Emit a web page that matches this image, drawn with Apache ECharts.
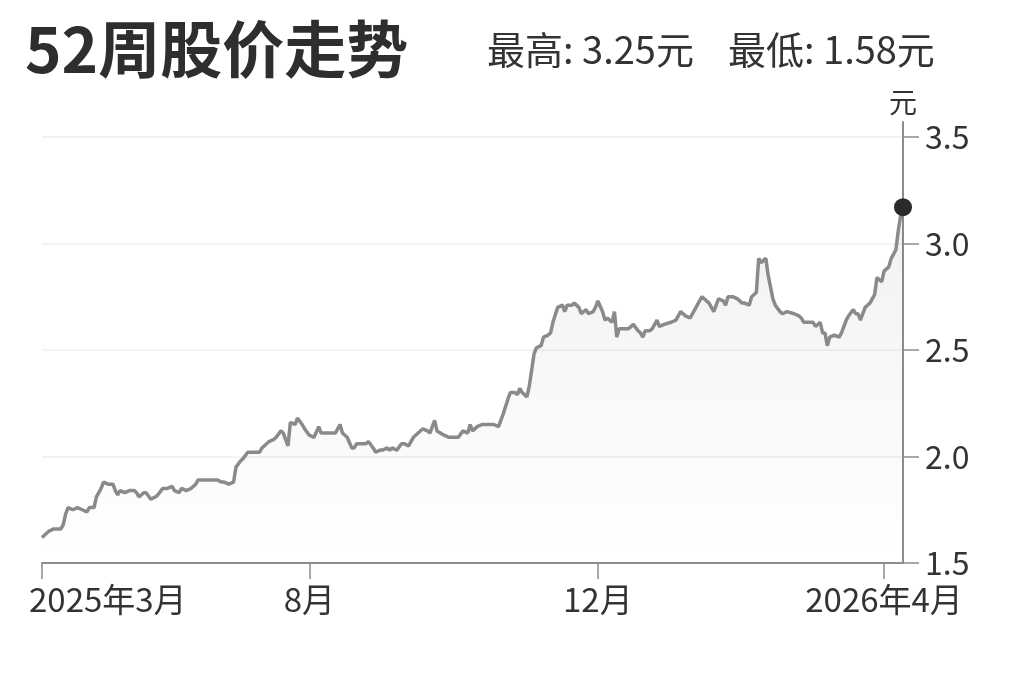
<!DOCTYPE html>
<html>
<head>
    <meta charset="utf-8">
    <script src="https://cdn.jsdelivr.net/npm/echarts@6/dist/echarts.min.js"></script>
    <style>
        html, body { margin: 0; padding: 0; background: #fff; }
    </style>
</head>
<body>
    <div id="main" style="width:1023px; height:682px;"></div>
</body>
	<script type="text/javascript">
        var myChart = echarts.init(document.getElementById('main'));

		// 52 weeks, counted in days from the first trading day
		var startDate = '2025-04-10';
		var dayOffsets = [
			0,1,3,5,8,9,10,11,13,15,17,19,20,22,23,25,26,28,30,31,32,33,35,37,39,40,41,43,44,46,
			48,49,51,53,55,56,58,59,61,63,65,66,68,71,74,76,77,79,81,82,84,85,87,89,91,
			92,93,96,98,99,101,102,104,105,107,108,110,111,113,115,117,118,121,123,124,
			126,127,129,131,132,133,135,137,138,140,141,143,144,146,147,148,150,152,153,155,
			157,159,161,163,164,166,167,170,172,174,176,178,180,181,182,
			184,186,188,191,193,195,197,198,200,201,202,203,205,206,208,209,211,212,214,215,
			216,218,220,221,222,224,225,227,228,230,231,233,234,235,237,238,239,241,242,243,
			244,246,248,250,252,253,254,255,257,258,260,261,263,266,268,270,272,274,
			275,277,279,280,282,284,286,288,289,290,292,294,296,297,299,300,302,303,304,306,
			307,309,310,312,313,315,318,320,321,322,324,326,327,329,330,331,332,333,335,337,
			338,340,341,343,344,345,346,348,349,350,352,353,355,356,358,359,361,362,363,364
		];
		var closePrices = [
			1.62,1.63,1.65,1.66,1.66,1.68,1.73,1.76,1.75,1.76,1.75,1.74,1.76,1.76,1.81,1.85,1.88,1.87,1.87,1.84,
			1.82,1.84,1.83,1.84,1.84,1.83,1.81,1.83,1.83,1.80,1.81,1.82,1.85,1.85,1.86,1.84,1.83,1.85,1.84,1.85,
			1.87,1.89,1.89,1.89,1.89,1.88,1.88,1.87,1.88,1.95,1.98,1.99,2.02,2.02,2.02,
			2.02,2.04,2.07,2.08,2.09,2.12,2.11,2.05,2.16,2.15,2.18,2.15,2.13,2.10,2.09,2.14,2.11,2.11,2.11,2.11,
			2.15,2.11,2.09,2.04,2.04,2.06,2.06,2.06,2.07,2.04,2.02,2.03,2.03,2.04,2.03,2.04,2.03,2.06,2.06,2.05,
			2.09,2.11,2.13,2.12,2.11,2.17,2.12,2.10,2.09,2.09,2.09,2.12,2.11,2.15,2.12,
			2.14,2.15,2.15,2.15,2.14,2.20,2.27,2.30,2.30,2.29,2.32,2.30,2.28,2.33,2.48,2.51,2.52,2.56,2.57,2.58,
			2.63,2.70,2.71,2.68,2.71,2.71,2.72,2.70,2.67,2.69,2.67,2.68,2.70,2.73,2.68,2.64,2.65,2.63,2.68,2.56,
			2.60,2.60,2.60,2.62,2.59,2.58,2.56,2.59,2.59,2.60,2.64,2.61,2.62,2.63,2.64,2.68,2.66,2.65,
			2.67,2.71,2.75,2.74,2.72,2.68,2.74,2.73,2.71,2.75,2.75,2.74,2.72,2.72,2.71,2.75,2.77,2.93,2.91,2.93,
			2.85,2.74,2.71,2.68,2.67,2.68,2.67,2.66,2.65,2.63,2.63,2.63,2.61,2.63,2.58,2.58,2.52,2.56,2.57,2.56,
			2.58,2.64,2.66,2.69,2.67,2.67,2.64,2.70,2.71,2.72,2.76,2.84,2.82,2.87,2.89,2.93,2.97,3.06,3.13,3.17
		];
		var tickDates = ['2025-04-10', '2025-08-01', '2025-12-01', '2026-04-01'];
		var tickLabels = ['2025年3月', '8月', '12月', '2026年4月'];
		var yTicks = [1.5, 2.0, 2.5, 3.0, 3.5];
		var highPrice = '3.25';
		var lowPrice = '1.58';

		var DAY = 86400000;
		var t0 = Date.parse(startDate);
		var tickDays = tickDates.map(function (s) { return Math.round((Date.parse(s) - t0) / DAY); });
		var lineData = dayOffsets.map(function (d, i) { return [d, closePrices[i]]; });
		var lastPoint = lineData[lineData.length - 1];

		var font = '"Noto Sans CJK SC", "Noto Sans", sans-serif';
		var axisColor = '#8c8c8c';

      	option = {
			backgroundColor: '#fff',
			animation: false,
			textStyle: { fontFamily: font },
			title: [{
				text: '52周股价走势',
				left: 20,
				top: 13,
				textStyle: { fontFamily: font, fontSize: 62, fontWeight: 'bold', color: '#2e2e2e' }
			}, {
				text: '最高: ' + highPrice + '元    最低: ' + lowPrice + '元',
				left: 482,
				top: 26,
				textStyle: { fontFamily: font, fontSize: 38, fontWeight: 'normal', color: '#333' }
			}],
			grid: { left: 42, right: 120, top: 122, bottom: 119 },
			xAxis: {
				type: 'value',
				min: 0,
				max: lastPoint[0],
				axisLine: { show: true, lineStyle: { color: axisColor, width: 2 } },
				axisTick: { show: true, length: 16, customValues: tickDays, lineStyle: { color: axisColor, width: 1.5 } },
				axisLabel: {
					customValues: tickDays,
					margin: 20,
					fontSize: 33,
					color: '#333',
					fontFamily: font,
					alignMinLabel: 'left',
					formatter: function (v) {
						var i = tickDays.indexOf(v);
						if (i === 0) return '{first|' + tickLabels[i] + '}';
						return i >= 0 ? tickLabels[i] : '';
					},
					rich: {
						first: { fontSize: 33, color: '#333', fontFamily: font, padding: [0, 0, 0, -13] }
					}
				},
				splitLine: { show: false }
			},
			yAxis: {
				type: 'value',
				position: 'right',
				min: 1.5,
				max: 3.57,
				interval: 0.5,
				name: '元',
				nameLocation: 'end',
				nameGap: 6,
				nameTextStyle: { fontFamily: font, fontSize: 28, color: '#333', align: 'center' },
				axisLine: { show: true, onZero: false, lineStyle: { color: axisColor, width: 2 } },
				axisTick: { show: true, length: 16, customValues: yTicks, lineStyle: { color: axisColor, width: 1.5 } },
				axisLabel: {
					customValues: yTicks,
					margin: 22,
					fontSize: 32,
					color: '#333',
					fontFamily: font,
					formatter: function (v) { return v.toFixed(1); }
				},
				splitLine: { show: true, lineStyle: { color: '#f3f3f3', width: 2 } }
			},
			series: [{
				type: 'line',
				data: lineData,
				showSymbol: false,
				smooth: false,
				lineStyle: { color: '#8a8a8a', width: 3.5 },
				areaStyle: {
					color: new echarts.graphic.LinearGradient(0, 0, 0, 1, [
						{ offset: 0, color: 'rgba(0,0,0,0.08)' },
						{ offset: 1, color: 'rgba(0,0,0,0)' }
					])
				},
				silent: true
			}, {
				type: 'scatter',
				data: [lastPoint],
				symbol: 'circle',
				symbolSize: 18,
				z: 5,
				itemStyle: { color: '#2a2a2a', opacity: 1 },
				silent: true
			}]
		};
        myChart.setOption(option);
    </script>
</html>
